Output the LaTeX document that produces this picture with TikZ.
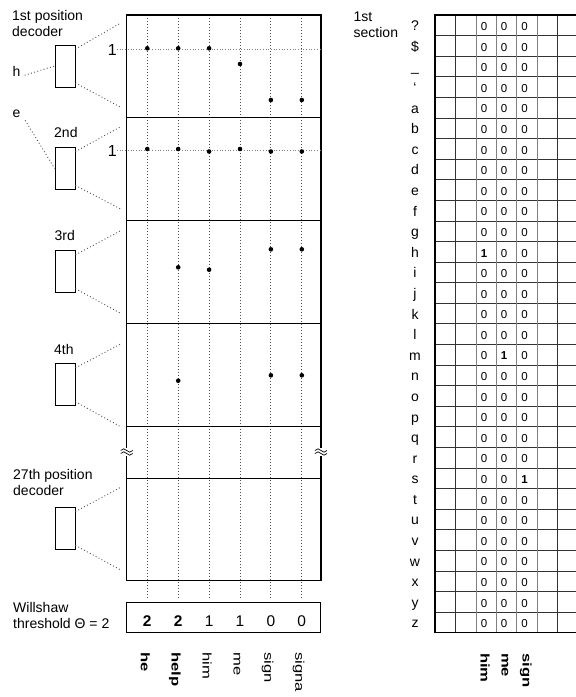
\documentclass[tikz,border=0pt]{standalone}
\usepackage{fontspec}
\setmainfont{Liberation Sans}
\newfontfamily\wordfont{Liberation Sans}[FakeStretch=1.33]
\definecolor{dotline}{gray}{0.30}
\definecolor{gridline}{gray}{0.50}
\tikzset{
  lab/.style={font=\fontsize{14}{15.6}\selectfont,inner sep=0pt,align=left,anchor=base west},
  rowlab/.style={font=\fontsize{14}{16}\selectfont,inner sep=0pt,anchor=base},
  decbox/.style={draw,rectangle,minimum width=20pt,minimum height=42pt,inner sep=0pt,line width=0.8pt},
  fan/.style={dotline,line width=0.9pt,dash pattern=on 0.9pt off 2.4pt},
  vdot/.style={dotline,line width=0.9pt,dash pattern=on 0.9pt off 2.1pt},
  hdot/.style={gray,line width=0.8pt,dash pattern=on 0.9pt off 1.8pt},
  word/.style={rotate=-90,anchor=base west,inner sep=0pt,font=\wordfont\fontsize{12.5}{14}\selectfont},
  cell/.style={font=\fontsize{11.5}{13}\selectfont,inner sep=0pt},
  score/.style={font=\fontsize{15.5}{17}\selectfont,inner sep=0pt,anchor=base},
  one/.style={font=\fontsize{16}{18}\selectfont,inner sep=0pt,anchor=base east},
  frame/.style={line width=1.5pt},
  tabline/.style={black!80,line width=0.8pt},
}

\begin{document}
\begin{tikzpicture}[x=1pt,y=-1pt]
  \useasboundingbox (0,0) rectangle (576,697);
  % memory matrix, one section per position
  \foreach \cx in {147.3,178.2,209.1,240,270.9,301.8}
    \draw[vdot] (\cx,15) -- (\cx,598);
  \draw[frame] (126.7,15) rectangle (321,580.7);
  \foreach \sy in {117.7,220.7,323.7,426.7,478.3}
    \draw[frame] (126.7,\sy) -- (321,\sy);
  \coordinate (rt) at (321,0);
  \node[one] (one1) at (117,55) {1};
  \node[one] (one2) at (117,156) {1};
  \draw[hdot] (one1.east) -- (one1.east -| rt);
  \draw[hdot] (one2.east) -- (one2.east -| rt);
  % stored words
  \foreach \cx/\cy in {147.3/48.3,178.2/48.3,209.1/48.3,240/64,270.9/100,301.8/100,
                       147.3/149,178.2/149,209.1/151.5,240/149,270.9/151.5,301.8/151.5,
                       178.2/267.3,209.1/269.7,270.9/249.3,301.8/249.3,
                       178.2/380.7,270.9/375.3,301.8/375.3}
    \fill (\cx,\cy) circle (2.3);
  % break marks
  \foreach \bx in {126.7,321} {
    \fill[white] (\bx-6,448) rectangle (\bx+6,455.5);
    \draw[line width=0.7pt] (\bx-6,450.5) sin (\bx-3,448.8) cos (\bx,450.5) sin (\bx+3,452.2) cos (\bx+6,450.5);
    \draw[line width=0.7pt] (\bx-6,453.5) sin (\bx-3,451.8) cos (\bx,453.5) sin (\bx+3,455.2) cos (\bx+6,453.5);
  }
  % position decoders
  \foreach \n/\cy/\ua/\lb in {1/66/23/107.3,2/168.5/126.7/209,3/271.7/230.7/313.3,
                              4/384.8/344/426.7,27/528.5/487.3/570} {
    \node[decbox] (dec\n) at (65,\cy) {};
    \coordinate (fu\n) at (120.7,\ua);
    \coordinate (fl\n) at (120.7,\lb);
    \draw[fan] ([yshift=-4.5pt]dec\n.north east) -- (fu\n);
    \draw[fan] ([yshift=4.5pt]dec\n.south east) -- (fl\n);
  }
  \node[lab] (capfirst) at (12,36) {1st position\\decoder};
  \node[lab] (caplast) at (13,495) {27th position\\decoder};
  \node[lab] (sec2) at (54,137.3) {2nd};
  \node[lab] (sec3) at (54.5,240.7) {3rd};
  \node[lab] (sec4) at (54,354) {4th};
  \node[lab] (inh) at (12.5,76.5) {h};
  \node[lab] (ine) at (12.5,117) {e};
  \draw[fan] ([xshift=4pt,yshift=1.5pt]inh.south east) -- (dec1.west);
  \draw[fan] ([xshift=4.5pt,yshift=-3pt]ine.south east) -- (dec2.west);
  % threshold and retrieved words
  \node[lab] (thr) at (13,628.3) {Willshaw\\threshold Θ = 2};
  \draw[line width=0.8pt] (126.7,602.7) rectangle (320.7,632.3);
  \foreach \cx/\v/\w [count=\i] in {147.3/\bfseries 2/\bfseries he,178.2/\bfseries 2/\bfseries help,
                                   209.1/1/him,240/1/me,270.9/0/sign,301.8/0/signa} {
    \node[score] (sc\i) at (\cx,626) {\v};
    \node[word] (w\i) at (\cx-6.5,652) {\w};
  }
  % first section of the address matrix
  \node[lab] (capsec) at (353.5,37.3) {1st\\section};
  \foreach \k in {1,...,29}
    \draw[tabline] (435,15+\k*20.59) -- (576,15+\k*20.59);
  \foreach \vx in {455,557.7}
    \draw[tabline] (\vx,15) -- (\vx,632.7);
  \foreach \vx in {476.7,496,516.7,537.3}
    \draw[gridline,line width=0.9pt] (\vx,15) -- (\vx,632.7);
  \draw[frame] (576,15) -- (435,15) -- (435,632.7) -- (576,632.7);
  \foreach \lab [count=\r] in {?,\$,\_,\textquoteleft,a,b,c,d,e,f,g,h,i,j,k,l,m,n,o,p,q,r,s,t,u,v,w,x,y,z} {
    \node[rowlab] (row\r) at (415,15+\r*20.59-10.3+5.5) {\lab};
    \foreach \c/\cx in {1/484,2/504,3/524.5} {
      \pgfmathtruncatemacro\hit{(\r==12 && \c==1) || (\r==17 && \c==2) || (\r==23 && \c==3)}
      \ifnum\hit=1
        \node[cell] (c\r-\c) at (\cx,15+\r*20.59-10.3+1.3) {\bfseries 1};
      \else
        \node[cell] (c\r-\c) at (\cx,15+\r*20.59-10.3+1.3) {0};
      \fi
    }
  }
  \node[word] (rw1) at (480.5,653) {\bfseries him};
  \node[word] (rw2) at (501.5,653) {\bfseries me};
  \node[word] (rw3) at (522.5,653) {\bfseries sign};
\end{tikzpicture}
\end{document}
